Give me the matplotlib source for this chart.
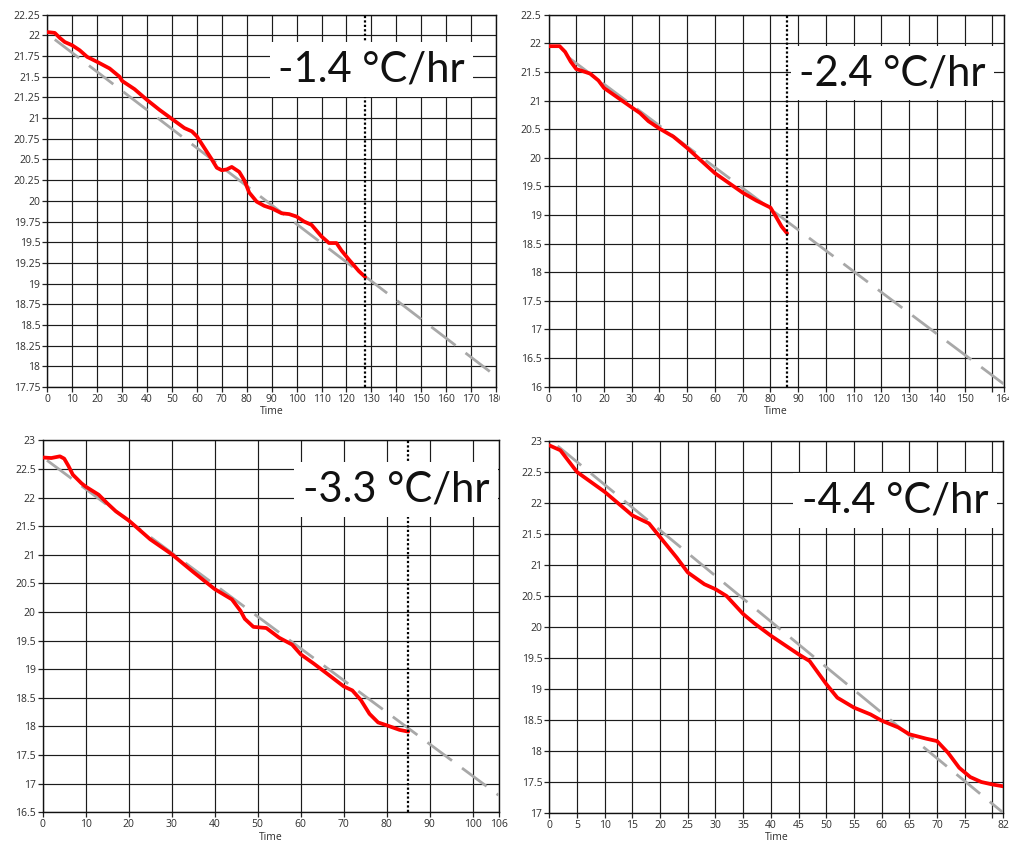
import matplotlib
matplotlib.use("Agg")
import matplotlib.pyplot as plt
from matplotlib.transforms import Bbox, TransformedBbox

# ---------------- data ----------------
# Panel 1  (-1.4 °C/hr)
p1_t = [0, 3, 5, 7, 10, 13, 16, 20, 25, 29, 30, 35, 40, 45, 50, 55, 58, 60, 63, 66, 68,
        70, 72, 74, 77, 79, 81, 84, 87, 90, 94, 97, 100, 103, 106, 110, 113, 116, 118,
        121, 125, 127.5]
p1_temp = [22.04, 22.03, 21.97, 21.92, 21.88, 21.82, 21.74, 21.68, 21.60, 21.50, 21.45,
           21.35, 21.22, 21.10, 20.99, 20.88, 20.84, 20.78, 20.64, 20.50, 20.40, 20.37,
           20.38, 20.41, 20.35, 20.25, 20.10, 19.99, 19.94, 19.91, 19.85, 19.84, 19.81,
           19.75, 19.71, 19.57, 19.49, 19.49, 19.40, 19.29, 19.15, 19.08]
p1_fit_t = [3, 180]
p1_fit_temp = [21.95, 17.88]
p1_mark = 127.5
p1_label = "-1.4 °C/hr"

# Panel 2  (-2.4 °C/hr)
p2_t = [0, 4, 6, 8, 10, 12, 15, 18, 20, 25, 30, 33, 36, 40, 45, 50, 55, 60, 65, 70, 75,
        80, 82, 84, 86]
p2_temp = [21.95, 21.95, 21.85, 21.68, 21.55, 21.52, 21.47, 21.35, 21.22, 21.05, 20.88,
           20.78, 20.64, 20.51, 20.37, 20.17, 19.95, 19.73, 19.56, 19.39, 19.25, 19.13,
           18.97, 18.80, 18.68]
p2_fit_t = [7, 164]
p2_fit_temp = [21.76, 16.05]
p2_mark = 86
p2_label = "-2.4 °C/hr"

# Panel 3  (-3.3 °C/hr)
p3_t = [0, 2, 4, 5, 6, 7, 9, 10, 13, 15, 17, 20, 25, 30, 35, 38, 40, 44, 46, 47, 49, 52,
        55, 58, 60, 63, 66, 70, 72, 74, 76, 78, 80, 83, 85]
p3_temp = [22.70, 22.69, 22.72, 22.68, 22.55, 22.40, 22.25, 22.19, 22.05, 21.90, 21.76,
           21.60, 21.27, 21.01, 20.70, 20.52, 20.40, 20.22, 20.02, 19.88, 19.74, 19.72,
           19.55, 19.43, 19.26, 19.10, 18.93, 18.70, 18.63, 18.46, 18.22, 18.07, 18.02,
           17.94, 17.91]
p3_fit_t = [1, 106]
p3_fit_temp = [22.65, 16.80]
p3_mark = 85
p3_label = "-3.3 °C/hr"

# Panel 4  (-4.4 °C/hr)
p4_t = [0, 2, 5, 10, 15, 18, 20, 23, 25, 28, 30, 32, 35, 37, 40, 45, 47, 50, 52, 55, 58,
        60, 63, 65, 68, 70, 72, 74, 76, 78, 80, 82]
p4_temp = [22.93, 22.85, 22.50, 22.18, 21.80, 21.67, 21.45, 21.12, 20.88, 20.69, 20.61,
           20.50, 20.21, 20.06, 19.86, 19.56, 19.45, 19.08, 18.86, 18.70, 18.59, 18.49,
           18.38, 18.27, 18.20, 18.16, 17.97, 17.73, 17.58, 17.50, 17.46, 17.43]
p4_fit_t = [1.5, 82]
p4_fit_temp = [22.92, 17.00]
p4_label = "-4.4 °C/hr"

# axis settings per panel
panels = [
    dict(t=p1_t, y=p1_temp, ft=p1_fit_t, fy=p1_fit_temp, mark=p1_mark, label=p1_label,
         xmax=180, xstep=10, ymin=17.75, ymax=22.25, ystep=0.25),
    dict(t=p2_t, y=p2_temp, ft=p2_fit_t, fy=p2_fit_temp, mark=p2_mark, label=p2_label,
         xmax=164, xstep=10, ymin=16, ymax=22.5, ystep=0.5),
    dict(t=p3_t, y=p3_temp, ft=p3_fit_t, fy=p3_fit_temp, mark=p3_mark, label=p3_label,
         xmax=106, xstep=10, ymin=16.5, ymax=23, ystep=0.5),
    dict(t=p4_t, y=p4_temp, ft=p4_fit_t, fy=p4_fit_temp, mark=None, label=p4_label,
         xmax=82, xstep=5, ymin=17, ymax=23, ystep=0.5),
]

# ---------------- layout / style ----------------
W, H = 1009, 850
rects_px = [(47.3, 14.7, 496.0, 387.0),
            (548.5, 14.7, 1003.5, 386.7),
            (42.7, 440.3, 498.5, 812.3),
            (549.3, 441.0, 1003.5, 813.0)]
text_pos = [(0.7225, 0.82), (0.756, 0.811), (0.775, 0.835), (0.761, 0.808)]
clip_right_px = [500, None, None, None]

fig = plt.figure(figsize=(W / 100, H / 100), dpi=100)
fig.patch.set_facecolor("white")

tick_font = "Open Sans"
tick_color = "#2e2e2e"
grid_color = "#1c1c1c"

for i, p in enumerate(panels):
    l, t, r, b = rects_px[i]
    ax = fig.add_axes([l / W, 1 - b / H, (r - l) / W, (b - t) / H])
    ax.set_xlim(0, p["xmax"])
    ax.set_ylim(p["ymin"], p["ymax"])

    xt = list(range(0, p["xmax"], p["xstep"]))
    if xt[-1] != p["xmax"]:
        xt.append(p["xmax"])
    labels = []
    for v in xt:
        if v != p["xmax"] and p["xmax"] - v <= 4:
            labels.append("")
        else:
            labels.append(str(v))
    ax.set_xticks(xt)
    ax.set_xticklabels(labels)

    n = int(round((p["ymax"] - p["ymin"]) / p["ystep"]))
    yt = [p["ymin"] + k * p["ystep"] for k in range(n + 1)]
    ax.set_yticks(yt)
    ax.set_yticklabels([f"{v:g}" for v in yt])

    ax.grid(True, color=grid_color, lw=0.85, zorder=0)
    ax.set_axisbelow(True)
    for s in ax.spines.values():
        s.set_color("#111111")
        s.set_linewidth(1.0)

    ax.tick_params(axis="both", direction="out", length=3.5, width=0.9, color="#222222",
                   labelsize=7.5, labelcolor=tick_color, pad=1.5)
    for lab in ax.get_xticklabels() + ax.get_yticklabels():
        lab.set_fontfamily(tick_font)
    ax.set_xlabel("Time", fontsize=7.5, family=tick_font, color=tick_color, labelpad=1)

    ax.plot(p["ft"], p["fy"], color="#a8a8a8", lw=2.0, dashes=(11, 4.5),
            solid_capstyle="butt", zorder=3)
    ax.plot(p["t"], p["y"], color="#ff0000", lw=2.7, solid_joinstyle="round",
            solid_capstyle="round", zorder=4)
    if p["mark"] is not None:
        ax.axvline(p["mark"], color="black", lw=1.6, ls=(0, (1, 1)), zorder=5)

    tx, ty = text_pos[i]
    ax.text(tx, ty, p["label"], transform=ax.transAxes, ha="center", va="baseline",
            fontsize=30, family="Lato", color="#111111", zorder=10,
            bbox=dict(boxstyle="square,pad=0.2", facecolor="white", edgecolor="none"))

    if clip_right_px[i] is not None:
        cb = TransformedBbox(Bbox([[0, 0], [clip_right_px[i] / W, 1]]), fig.transFigure)
        for lab in ax.get_xticklabels():
            lab.set_clip_box(cb)
            lab.set_clip_on(True)

fig.savefig("out.png", dpi=100, facecolor="white")
